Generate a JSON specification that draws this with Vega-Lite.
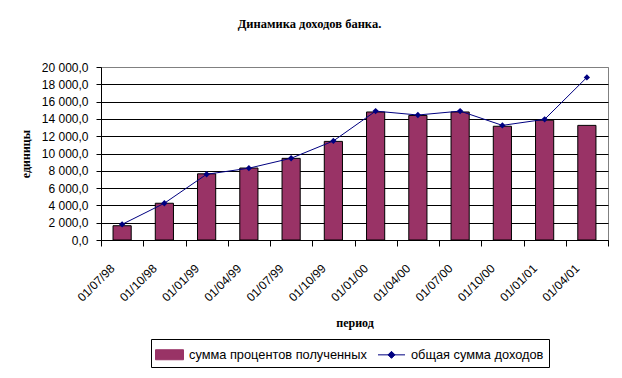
{
  "$schema": "https://vega.github.io/schema/vega-lite/v6.json",
  "width": 507,
  "height": 173,
  "autosize": {"type": "none"},
  "padding": {"left": 101, "top": 67, "right": 14, "bottom": 138},
  "background": "white",
  "title": {
    "text": "Динамика доходов банка.",
    "font": "Liberation Serif",
    "fontSize": 12.5,
    "fontWeight": "bold",
    "color": "black",
    "anchor": "middle",
    "dx": -45,
    "offset": 31
  },
  "config": {
    "locale": {"number": {"decimal": ",", "thousands": " ", "grouping": [3], "currency": ["", ""]}},
    "view": {"stroke": "#808080", "strokeWidth": 1},
    "axis": {
      "labelFont": "Liberation Sans",
      "labelFontSize": 12,
      "labelColor": "black",
      "titleFont": "Liberation Serif",
      "titleFontSize": 12,
      "titleFontWeight": "bold",
      "titleColor": "black",
      "domainColor": "black",
      "tickColor": "black",
      "gridColor": "black",
      "gridOpacity": 1,
      "domainWidth": 1,
      "tickWidth": 1
    }
  },
  "data": {
    "values": [
      {"period": "01/07/98", "series": "сумма процентов полученных", "value": 1650},
      {"period": "01/10/98", "series": "сумма процентов полученных", "value": 4250},
      {"period": "01/01/99", "series": "сумма процентов полученных", "value": 7650},
      {"period": "01/04/99", "series": "сумма процентов полученных", "value": 8320},
      {"period": "01/07/99", "series": "сумма процентов полученных", "value": 9440},
      {"period": "01/10/99", "series": "сумма процентов полученных", "value": 11400},
      {"period": "01/01/00", "series": "сумма процентов полученных", "value": 14800},
      {"period": "01/04/00", "series": "сумма процентов полученных", "value": 14400},
      {"period": "01/07/00", "series": "сумма процентов полученных", "value": 14800},
      {"period": "01/10/00", "series": "сумма процентов полученных", "value": 13150},
      {"period": "01/01/01", "series": "сумма процентов полученных", "value": 13850},
      {"period": "01/04/01", "series": "сумма процентов полученных", "value": 13250},
      {"period": "01/07/98", "series": "общая сумма доходов", "value": 1810},
      {"period": "01/10/98", "series": "общая сумма доходов", "value": 4250},
      {"period": "01/01/99", "series": "общая сумма доходов", "value": 7600},
      {"period": "01/04/99", "series": "общая сумма доходов", "value": 8300},
      {"period": "01/07/99", "series": "общая сумма доходов", "value": 9450},
      {"period": "01/10/99", "series": "общая сумма доходов", "value": 11450},
      {"period": "01/01/00", "series": "общая сумма доходов", "value": 14900},
      {"period": "01/04/00", "series": "общая сумма доходов", "value": 14450},
      {"period": "01/07/00", "series": "общая сумма доходов", "value": 14900},
      {"period": "01/10/00", "series": "общая сумма доходов", "value": 13250},
      {"period": "01/01/01", "series": "общая сумма доходов", "value": 13950},
      {"period": "01/04/01", "series": "общая сумма доходов", "value": 18800}
    ]
  },
  "encoding": {
    "x": {
      "field": "period",
      "type": "ordinal",
      "sort": null,
      "scale": {"paddingInner": 0, "paddingOuter": 0},
      "axis": {
        "title": "период",
        "labelAngle": -45,
        "labelAlign": "right",
        "labelBaseline": "middle",
        "tickBand": "extent",
        "tickSize": 6,
        "labelPadding": 20,
        "labelOffset": -10,
        "titlePadding": 14,
        "grid": false
      }
    },
    "y": {
      "field": "value",
      "type": "quantitative",
      "scale": {"domain": [0, 20000], "nice": false},
      "axis": {
        "title": "единицы",
        "format": ",.1f",
        "tickCount": 10,
        "tickSize": 5,
        "labelPadding": 8,
        "titlePadding": 9,
        "grid": true,
        "gridColor": {"condition": {"test": "datum.value >= 20000", "value": "#808080"}, "value": "black"}
      }
    },
    "color": {
      "field": "series",
      "type": "nominal",
      "sort": null,
      "scale": {
        "domain": ["сумма процентов полученных", "общая сумма доходов"],
        "range": ["#993366", "#000080"]
      },
      "legend": {
        "orient": "none",
        "legendX": 50,
        "legendY": 272,
        "direction": "horizontal",
        "title": null,
        "strokeColor": "black",
        "padding": 5,
        "labelFont": "Liberation Sans",
        "labelFontSize": 12.8,
        "labelColor": "black",
        "labelLimit": 400,
        "symbolSize": 400,
        "symbolOffset": 3,
        "labelOffset": 9,
        "columnPadding": 9,
        "encode": {
          "symbols": {
            "update": {
              "shape": {"signal": "datum.value == 'сумма процентов полученных' ? 'M-1.4,-0.5H1.4V0.5H-1.4Z' : 'M-1.35,0H1.35M0,-0.35L0.35,0L0,0.35L-0.35,0Z'"},
              "fill": {"signal": "datum.value == 'сумма процентов полученных' ? '#993366' : '#000080'"},
              "stroke": {"signal": "datum.value == 'сумма процентов полученных' ? 'black' : '#000080'"},
              "strokeWidth": {"value": 1},
              "opacity": {"value": 1},
              "fillOpacity": {"value": 1}
            }
          }
        }
      }
    }
  },
  "layer": [
    {
      "transform": [{"filter": "datum.series == 'сумма процентов полученных'"}],
      "mark": {"type": "bar", "width": {"band": 0.43}, "stroke": "black", "strokeWidth": 1, "opacity": 1}
    },
    {
      "transform": [{"filter": "datum.series == 'общая сумма доходов'"}],
      "mark": {"type": "line", "strokeWidth": 1, "point": {"shape": "diamond", "filled": true, "size": 40, "opacity": 1}}
    }
  ]
}
